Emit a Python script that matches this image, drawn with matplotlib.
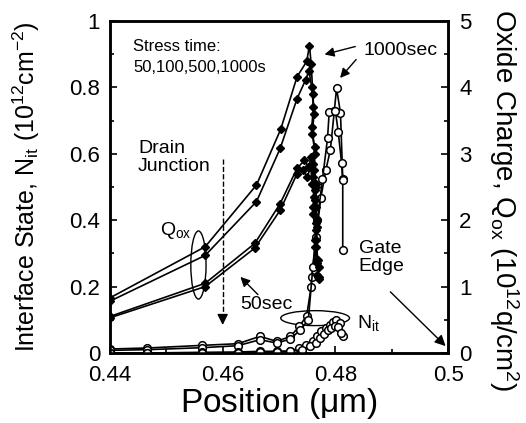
import matplotlib
matplotlib.use('Agg')
import matplotlib.pyplot as plt
from matplotlib.patches import Ellipse
from matplotlib.ticker import MultipleLocator, FormatStrFormatter

plt.rcParams['font.family'] = ['Liberation Sans', 'DejaVu Sans']
plt.rcParams['mathtext.default'] = 'regular'

# oxide charge Qox (10^12 q/cm^2), right axis, filled diamonds
qox_1000_x = [0.44, 0.4569, 0.4660, 0.4703, 0.4732, 0.4749, 0.4754, 0.4757, 0.4760, 0.4762,
              0.4759, 0.4764, 0.4762, 0.4766, 0.4765, 0.4768, 0.4766, 0.4770, 0.4769]
qox_1000_y = [0.83, 1.60, 2.53, 3.37, 4.16, 4.39, 4.63, 4.35, 3.90, 3.60,
              3.30, 3.00, 2.75, 2.50, 2.20, 1.90, 1.60, 1.30, 1.15]
qox_500_x = [0.44, 0.4569, 0.4660, 0.4702, 0.4732, 0.4747, 0.4753, 0.4758, 0.4761, 0.4758,
             0.4763, 0.4761, 0.4765, 0.4763, 0.4767, 0.4765, 0.4769, 0.4768]
qox_500_y = [0.78, 1.47, 2.28, 3.08, 3.83, 4.11, 4.25, 4.00, 3.70, 3.40,
             3.10, 2.85, 2.55, 2.30, 2.00, 1.70, 1.40, 1.18]
qox_100_x = [0.44, 0.4569, 0.4657, 0.4702, 0.4732, 0.4745, 0.4752, 0.4757, 0.4760, 0.4763,
             0.4761, 0.4766, 0.4764, 0.4768, 0.4771]
qox_100_y = [0.55, 1.05, 1.65, 2.25, 2.78, 2.90, 2.80, 2.95, 2.65, 2.45,
             2.20, 1.95, 1.70, 1.40, 1.15]
qox_50_x = [0.44, 0.4569, 0.4657, 0.4702, 0.4732, 0.4742, 0.4750, 0.4756, 0.4759, 0.4762,
            0.4760, 0.4765, 0.4763, 0.4767, 0.4770]
qox_50_y = [0.53, 1.00, 1.58, 2.15, 2.70, 2.75, 2.65, 2.80, 2.55, 2.35,
            2.10, 1.85, 1.60, 1.35, 1.12]

# interface states Nit (10^12 cm^-2), left axis, open circles
nit_1000_x = [0.44, 0.4466, 0.4564, 0.4627, 0.4666, 0.4696, 0.4720, 0.4736, 0.4749, 0.4757,
              0.4758, 0.4766, 0.4774, 0.4783, 0.4791, 0.4798, 0.4802, 0.4809, 0.4813, 0.4813]
nit_1000_y = [0.012, 0.015, 0.023, 0.028, 0.050, 0.035, 0.050, 0.080, 0.112, 0.200,
              0.228, 0.350, 0.466, 0.551, 0.611, 0.728, 0.797, 0.723, 0.524, 0.310]
nit_500_x = [0.44, 0.4466, 0.4564, 0.4627, 0.4666, 0.4696, 0.4720, 0.4738, 0.4752, 0.4760,
             0.4768, 0.4777, 0.4786, 0.4789, 0.4800, 0.4805, 0.4811, 0.4813]
nit_500_y = [0.008, 0.010, 0.016, 0.022, 0.040, 0.030, 0.042, 0.070, 0.100, 0.260,
             0.400, 0.523, 0.646, 0.726, 0.728, 0.666, 0.571, 0.520]
nit_100_x = [0.44, 0.4466, 0.4564, 0.4627, 0.4666, 0.4696, 0.4720, 0.4736, 0.4748, 0.4760,
             0.4767, 0.4775, 0.4783, 0.4790, 0.4796, 0.4801, 0.4808, 0.4814]
nit_100_y = [0.0, 0.0, 0.002, 0.003, 0.005, 0.005, 0.006, 0.015, 0.025, 0.035,
             0.050, 0.065, 0.075, 0.085, 0.092, 0.100, 0.090, 0.052]
nit_50_x = [0.44, 0.4466, 0.4564, 0.4627, 0.4666, 0.4696, 0.4720, 0.4740, 0.4755, 0.4765,
            0.4772, 0.4780, 0.4787, 0.4793, 0.4799, 0.4805, 0.4810]
nit_50_y = [0.0, 0.0, 0.0, 0.0, 0.003, 0.004, 0.005, 0.010, 0.020, 0.030,
            0.045, 0.058, 0.068, 0.075, 0.080, 0.078, 0.060]

qox_series = [(qox_1000_x, qox_1000_y), (qox_500_x, qox_500_y),
              (qox_100_x, qox_100_y), (qox_50_x, qox_50_y)]
nit_series = [(nit_1000_x, nit_1000_y), (nit_500_x, nit_500_y),
              (nit_100_x, nit_100_y), (nit_50_x, nit_50_y)]

fig = plt.figure(figsize=(5.26, 4.23), dpi=100)
ax = fig.add_axes([0.209, 0.1655, 0.643, 0.785])
ax2 = ax.twinx()

for xs, ys in nit_series:
    ax.plot(xs, ys, '-o', color='k', lw=1.2, ms=5.5, mfc='white', mec='k', mew=1.1, zorder=3)
for xs, ys in qox_series:
    ax2.plot(xs, ys, '-D', color='k', lw=1.2, ms=4.2, mfc='k', mec='k', zorder=3)

ax.set_xlim(0.44, 0.5)
ax.set_ylim(0, 1)
ax2.set_ylim(0, 5)

ax.xaxis.set_major_locator(MultipleLocator(0.02))
ax.xaxis.set_minor_locator(MultipleLocator(0.01))
ax.yaxis.set_major_locator(MultipleLocator(0.2))
ax.yaxis.set_minor_locator(MultipleLocator(0.1))
ax2.yaxis.set_major_locator(MultipleLocator(1))
ax2.yaxis.set_minor_locator(MultipleLocator(0.5))
ax.xaxis.set_major_formatter(FormatStrFormatter('%g'))
ax.yaxis.set_major_formatter(FormatStrFormatter('%g'))
ax2.yaxis.set_major_formatter(FormatStrFormatter('%g'))

for a in (ax, ax2):
    a.tick_params(which='both', direction='in', labelsize=16, width=1.2)
    a.tick_params(which='major', length=5)
    a.tick_params(which='minor', length=3)
    for s in a.spines.values():
        s.set_linewidth(1.8)
ax.tick_params(axis='x', which='major', pad=9)
ax.tick_params(axis='y', which='major', pad=7)
ax2.tick_params(axis='y', which='major', pad=8)

ax.set_xlabel(r'Position ($\mu$m)', fontsize=24, labelpad=0)
ax.set_ylabel(r'Interface State, N$_{it}$ (10$^{12}$cm$^{-2}$)', fontsize=18)
ax.yaxis.set_label_coords(-0.2, 0.5)
ax2.set_ylabel(r'Oxide Charge, Q$_{ox}$ (10$^{12}$q/cm$^{2}$)', fontsize=20, rotation=270)
ax2.yaxis.set_label_coords(1.215, 0.46)

# annotations (in left-axis data coordinates)
ax.text(0.4441, 0.945, 'Stress time:\n50,100,500,1000s', fontsize=12, va='top',
        linespacing=1.5)
ax.text(0.4450, 0.589, 'Drain\nJunction', fontsize=14, va='center', linespacing=1.1)
ax.plot([0.46, 0.46], [0.585, 0.11], '--', color='k', lw=1)
ax.annotate('', xy=(0.46, 0.076), xytext=(0.46, 0.12),
            arrowprops=dict(arrowstyle='-|>', color='k', lw=1, mutation_scale=16))

ax.text(0.4489, 0.37, r'Q$_{ox}$', fontsize=14, va='center')
ax.add_patch(Ellipse((0.4557, 0.265), 0.0027, 0.205, fill=False, color='k', lw=1))

ax.text(0.4631, 0.145, '50sec', fontsize=14, va='center')
ax.annotate('', xy=(0.4628, 0.235), xytext=(0.4666, 0.17),
            arrowprops=dict(arrowstyle='-|>', color='k', lw=1, mutation_scale=14))

ax.add_patch(Ellipse((0.4764, 0.105), 0.0122, 0.045, fill=False, color='k', lw=1))
ax.text(0.4838, 0.09, r'N$_{it}$', fontsize=14, va='center')

ax.text(0.4849, 0.912, '1000sec', fontsize=14, va='center')
ax.annotate('', xy=(0.4776, 0.897), xytext=(0.4840, 0.925),
            arrowprops=dict(arrowstyle='-|>', color='k', lw=1, mutation_scale=14))
ax.annotate('', xy=(0.4805, 0.822), xytext=(0.4840, 0.890),
            arrowprops=dict(arrowstyle='-|>', color='k', lw=1, mutation_scale=14))

ax.text(0.4841, 0.288, 'Gate\nEdge', fontsize=14, va='center', linespacing=1.1)
ax.annotate('', xy=(0.4999, 0.015), xytext=(0.4894, 0.19),
            arrowprops=dict(arrowstyle='-|>', color='k', lw=1, mutation_scale=16))

fig.savefig('out.png', dpi=100)
